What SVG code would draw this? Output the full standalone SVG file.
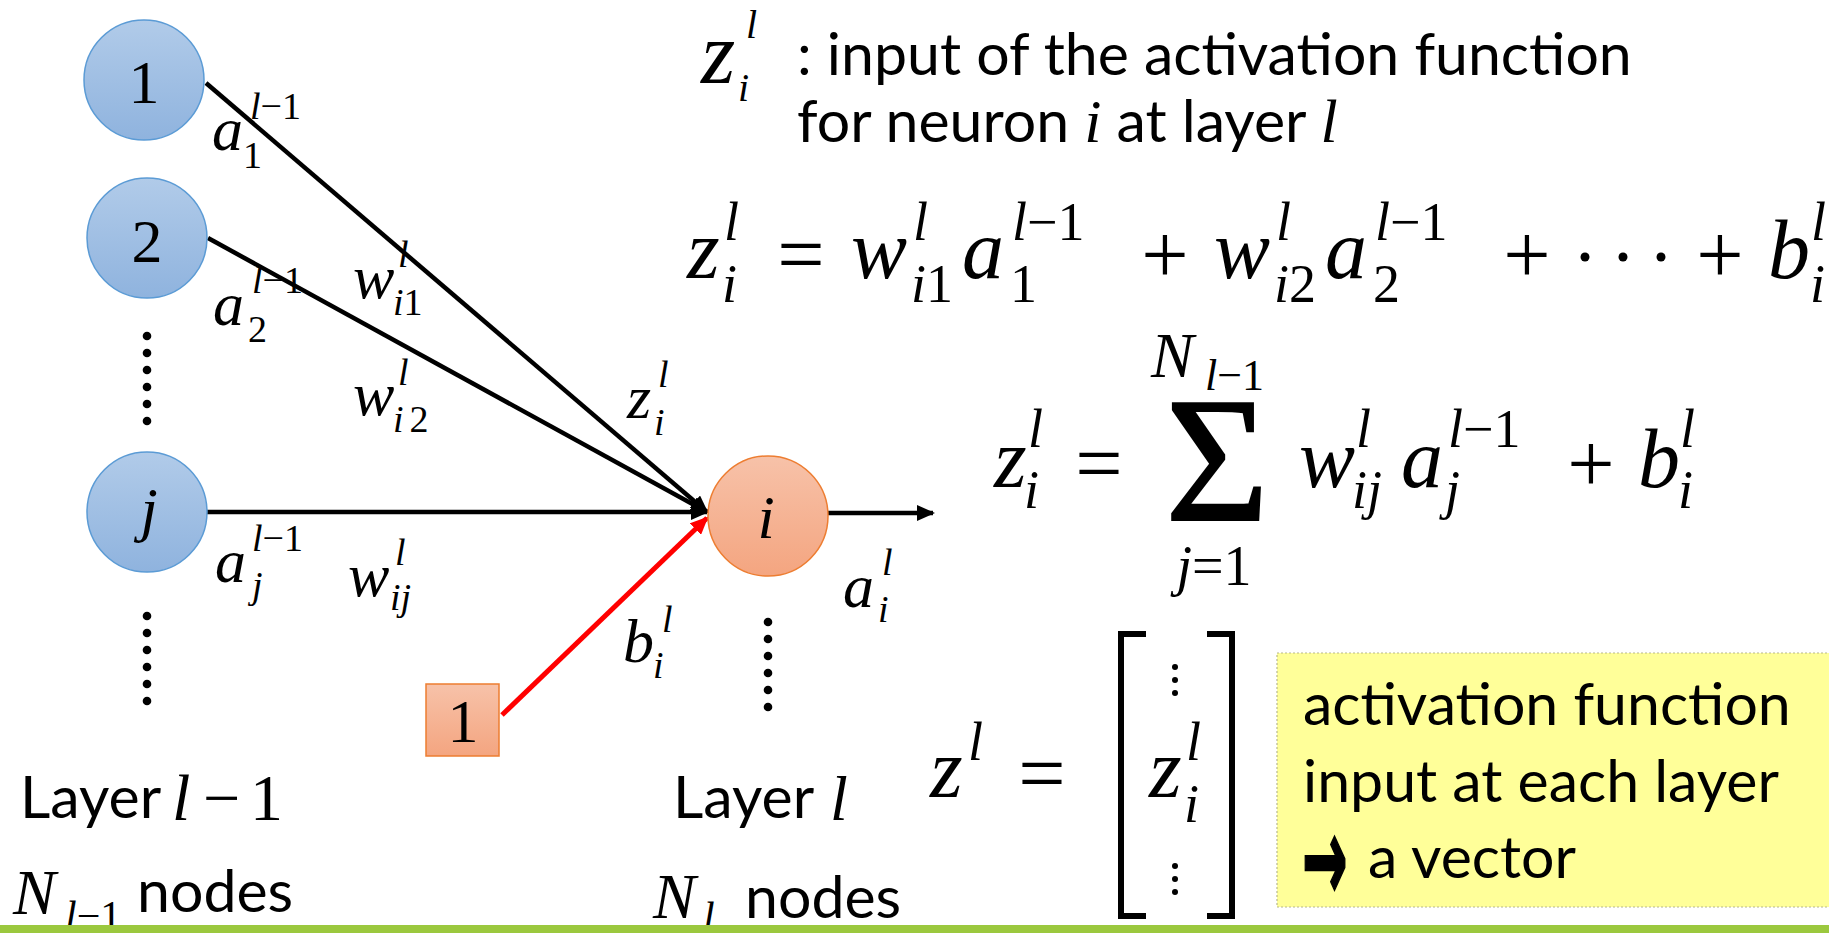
<svg xmlns="http://www.w3.org/2000/svg" width="1829" height="933" viewBox="0 0 1829 933">
<style>
.mi{font-family:"Liberation Serif","Times New Roman",serif;font-style:italic;fill:#000}
.mn{font-family:"Liberation Serif","Times New Roman",serif;font-style:normal;fill:#000}
.sans{font-family:Lato,"Liberation Sans",sans-serif;font-size:59px;fill:#000}
.lbl{font-size:62px}
.sc{font-size:38px}
.big{font-size:84px}
.bs{font-size:54px}
.edge{stroke:#000;stroke-width:4.5;fill:none}
.bias{stroke:#ff0000;stroke-width:5;fill:none}
.dot{fill:#000}
</style>
<defs>
<linearGradient id="gBlue" x1="0" y1="0" x2="0" y2="1"><stop offset="0" stop-color="#b1cbe9"/><stop offset="1" stop-color="#8fb3de"/></linearGradient>
<linearGradient id="gOrange" x1="0" y1="0" x2="0" y2="1"><stop offset="0" stop-color="#f7c2a9"/><stop offset="1" stop-color="#f4a580"/></linearGradient>
<marker id="ah" viewBox="0 0 9 8" refX="8" refY="4" markerWidth="4" markerHeight="3.6" orient="auto"><path d="M0,0 L9,4 L0,8 z" fill="#000"/></marker>
<marker id="ahr" viewBox="0 0 9 8" refX="8" refY="4" markerWidth="3.6" markerHeight="3.2" orient="auto"><path d="M0,0 L9,4 L0,8 z" fill="#ff0000"/></marker>
</defs>
<rect width="1829" height="933" fill="#fff"/>

<g id="connectors">
<line class="edge" x1="206" y1="83" x2="707" y2="512" marker-end="url(#ah)"/>
<line class="edge" x1="208" y1="238" x2="707" y2="512" marker-end="url(#ah)"/>
<line class="edge" x1="205" y1="512" x2="707" y2="512" marker-end="url(#ah)"/>
<line class="edge" x1="828" y1="513" x2="933" y2="513" marker-end="url(#ah)"/>
<line class="bias" x1="502" y1="715" x2="707" y2="518" marker-end="url(#ahr)"/>
</g>

<g id="node-1"><circle cx="144" cy="80" r="60" fill="url(#gBlue)" stroke="#5b9bd5" stroke-width="1.5"/><text class="mn lbl" x="144" y="103" text-anchor="middle">1</text></g>
<g id="node-2"><circle cx="147" cy="238" r="60" fill="url(#gBlue)" stroke="#5b9bd5" stroke-width="1.5"/><text class="mn lbl" x="147" y="262" text-anchor="middle">2</text></g>
<g id="node-j"><circle cx="147" cy="512" r="60" fill="url(#gBlue)" stroke="#5b9bd5" stroke-width="1.5"/><text class="mi lbl" x="149" y="530" text-anchor="middle">j</text></g>
<g id="node-i"><circle cx="768" cy="516" r="60" fill="url(#gOrange)" stroke="#ed7d31" stroke-width="1.5"/><text class="mi lbl" x="766" y="538" text-anchor="middle">i</text></g>
<g id="node-bias"><rect x="426" y="684" width="73" height="72" fill="url(#gOrange)" stroke="#ed7d31" stroke-width="1.5"/><text class="mn lbl" x="463" y="742" text-anchor="middle">1</text></g>

<g id="ellipses">
<circle class="dot" cx="147" cy="336" r="4.3"/><circle class="dot" cx="147" cy="353" r="4.3"/><circle class="dot" cx="147" cy="370" r="4.3"/><circle class="dot" cx="147" cy="387" r="4.3"/><circle class="dot" cx="147" cy="404" r="4.3"/><circle class="dot" cx="147" cy="421" r="4.3"/>
<circle class="dot" cx="147" cy="616" r="4.3"/><circle class="dot" cx="147" cy="633" r="4.3"/><circle class="dot" cx="147" cy="650" r="4.3"/><circle class="dot" cx="147" cy="667" r="4.3"/><circle class="dot" cx="147" cy="684" r="4.3"/><circle class="dot" cx="147" cy="701" r="4.3"/>
<circle class="dot" cx="768" cy="622" r="4.3"/><circle class="dot" cx="768" cy="639" r="4.3"/><circle class="dot" cx="768" cy="656" r="4.3"/><circle class="dot" cx="768" cy="673" r="4.3"/><circle class="dot" cx="768" cy="690" r="4.3"/><circle class="dot" cx="768" cy="707" r="4.3"/>
</g>

<g id="edge-labels">
<text class="mi lbl" x="212" y="150">a</text><text class="mi sc" x="250" y="119">l<tspan class="mn">−1</tspan></text><text class="mn sc" x="243" y="168">1</text>
<text class="mi lbl" x="213" y="325">a</text><text class="mi sc" x="252" y="293">l<tspan class="mn">−1</tspan></text><text class="mn sc" x="248" y="342">2</text>
<text class="mi lbl" x="215" y="582">a</text><text class="mi sc" x="252" y="551">l<tspan class="mn">−1</tspan></text><text class="mi sc" x="252" y="598">j</text>
<text class="mi lbl" x="353" y="298">w</text><text class="mi sc" x="398" y="267">l</text><text class="mi sc" x="393" y="315">i<tspan class="mn">1</tspan></text>
<text class="mi lbl" x="353" y="415">w</text><text class="mi sc" x="398" y="385">l</text><text class="mi sc" x="393" y="432">i<tspan class="mn" dx="6">2</tspan></text>
<text class="mi lbl" x="348" y="596">w</text><text class="mi sc" x="395" y="565">l</text><text class="mi sc" x="390" y="610">ij</text>
<text class="mi lbl" x="627" y="418">z</text><text class="mi sc" x="658" y="387">l</text><text class="mi sc" x="654" y="435">i</text>
<text class="mi lbl" x="623" y="662">b</text><text class="mi sc" x="662" y="632">l</text><text class="mi sc" x="653" y="678">i</text>
<text class="mi lbl" x="843" y="607">a</text><text class="mi sc" x="882" y="575">l</text><text class="mi sc" x="878" y="622">i</text>
</g>

<g id="definition">
<text class="mi" font-size="88" x="701" y="83">z</text><text class="mi" font-size="40" x="746" y="38">l</text><text class="mi" font-size="40" x="738" y="101">i</text>
<text class="sans" x="797" y="75">: input of the activation function</text>
<text class="sans" x="797" y="142">for neuron <tspan class="mi" font-size="62">i</tspan> at layer <tspan class="mi" font-size="62">l</tspan></text>
</g>

<g id="formula-expanded">
<text class="mi big" x="687" y="278">z</text><text class="mi bs" x="724" y="240">l</text><text class="mi bs" x="722" y="302">i</text>
<text class="mn big" x="801" y="283" text-anchor="middle">=</text>
<text class="mi big" x="851" y="278">w</text><text class="mi bs" x="913" y="240">l</text><text class="mi bs" x="911" y="302">i<tspan class="mn">1</tspan></text>
<text class="mi big" x="962" y="278">a</text><text class="mi bs" x="1012" y="240">l<tspan class="mn">−1</tspan></text><text class="mn bs" x="1010" y="302">1</text>
<text class="mn big" x="1165" y="283" text-anchor="middle">+</text>
<text class="mi big" x="1214" y="278">w</text><text class="mi bs" x="1276" y="240">l</text><text class="mi bs" x="1274" y="302">i<tspan class="mn">2</tspan></text>
<text class="mi big" x="1325" y="278">a</text><text class="mi bs" x="1375" y="240">l<tspan class="mn">−1</tspan></text><text class="mn bs" x="1373" y="302">2</text>
<text class="mn big" x="1527" y="283" text-anchor="middle">+</text>
<circle class="dot" cx="1585" cy="257" r="4.5"/><circle class="dot" cx="1623" cy="257" r="4.5"/><circle class="dot" cx="1661" cy="257" r="4.5"/>
<text class="mn big" x="1720" y="283" text-anchor="middle">+</text>
<text class="mi big" x="1768" y="278">b</text><text class="mi bs" x="1811" y="240">l</text><text class="mi bs" x="1810" y="302">i</text>
</g>

<g id="formula-sum">
<text class="mi big" x="994" y="487">z</text><text class="mi bs" x="1028" y="447">l</text><text class="mi bs" x="1024" y="508">i</text>
<text class="mn big" x="1099" y="492" text-anchor="middle">=</text>
<text class="mn" font-size="178" x="1217" y="520" text-anchor="middle" stroke="#000" stroke-width="2">Σ</text>
<text class="mi" font-size="64" x="1151" y="377">N</text><text class="mi" font-size="44" x="1205" y="390">l<tspan class="mn">−1</tspan></text>
<text class="mi" font-size="56" x="1214" y="585" text-anchor="middle">j<tspan class="mn">=1</tspan></text>
<text class="mi big" x="1299" y="487">w</text><text class="mi bs" x="1356" y="447">l</text><text class="mi bs" x="1352" y="508">ij</text>
<text class="mi big" x="1401" y="487">a</text><text class="mi bs" x="1448" y="447">l<tspan class="mn">−1</tspan></text><text class="mi bs" x="1445" y="508">j</text>
<text class="mn big" x="1591" y="492" text-anchor="middle">+</text>
<text class="mi big" x="1638" y="487">b</text><text class="mi bs" x="1680" y="447">l</text><text class="mi bs" x="1678" y="508">i</text>
</g>

<g id="formula-vector">
<text class="mi big" x="930" y="797">z</text><text class="mi bs" x="968" y="760">l</text>
<text class="mn big" x="1042" y="802" text-anchor="middle">=</text>
<path d="M1146,634 H1121 V916 H1146" fill="none" stroke="#000" stroke-width="6"/>
<path d="M1207,634 H1232 V916 H1207" fill="none" stroke="#000" stroke-width="6"/>
<circle class="dot" cx="1175" cy="667" r="3"/><circle class="dot" cx="1175" cy="680" r="3"/><circle class="dot" cx="1175" cy="693" r="3"/>
<text class="mi big" x="1149" y="797">z</text><text class="mi bs" x="1186" y="760">l</text><text class="mi bs" x="1184" y="822">i</text>
<circle class="dot" cx="1175" cy="866" r="3"/><circle class="dot" cx="1175" cy="879" r="3"/><circle class="dot" cx="1175" cy="892" r="3"/>
</g>

<g id="note">
<rect x="1277" y="653" width="560" height="254" fill="#ffff99" stroke="#b8b88c" stroke-width="1.2" stroke-dasharray="2,2"/>
<text class="sans" x="1303" y="725">activation function</text>
<text class="sans" x="1303" y="802">input at each layer</text>
<text transform="translate(1302,901) scale(0.68,1.5)" font-family="DejaVu Sans" font-weight="bold" font-size="80" stroke="#000" stroke-width="1.5">→</text>
<text class="sans" x="1368" y="878">a vector</text>
</g>

<g id="layer-labels">
<text class="sans" x="20" y="818">Layer</text><text class="mi" font-size="66" x="172" y="820">l</text><text class="mn" font-size="66" x="203" y="820">−</text><text class="mn" font-size="66" x="250" y="820">1</text>
<text class="mi" font-size="64" x="13" y="914">N</text><text class="mi" font-size="42" x="65" y="930">l<tspan class="mn">−1</tspan></text><text class="sans" x="137" y="912">nodes</text>
<text class="sans" x="673" y="818">Layer</text><text class="mi" font-size="64" x="830" y="820">l</text>
<text class="mi" font-size="64" x="653" y="918">N</text><text class="mi" font-size="42" x="703" y="931">l</text><text class="sans" x="745" y="918">nodes</text>
</g>

<rect id="footer-bar" x="0" y="925" width="1829" height="8" fill="#9bc83e"/>
</svg>
